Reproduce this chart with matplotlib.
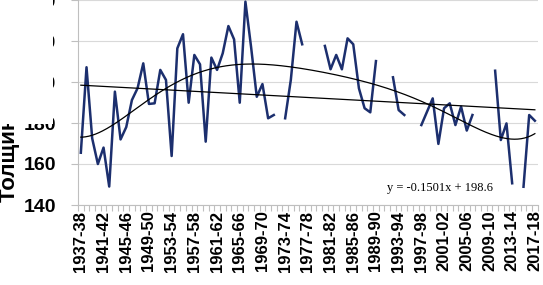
import numpy as np
import matplotlib
matplotlib.use("Agg")
import matplotlib.pyplot as plt
from matplotlib.patches import Rectangle

plt.rcParams['font.family'] = ['Liberation Sans', 'DejaVu Sans']

nan = np.nan
start_years = list(range(1937, 2018))
seasons = [f"{y}-{str(y + 1)[-2:]}" for y in start_years]

thickness = [
    165.5, 207.2, 172.5, 160.0, 168.0, 149.0, 195.3, 172.0, 178.0, 191.2,
    197.0, 209.1, 189.3, 189.6, 205.9, 201.0, 163.9, 216.4, 223.3, 189.9,
    213.2, 208.6, 170.9, 211.9, 205.9, 214.0, 227.3, 220.8, 189.9, 239.2,
    217.0, 192.8, 199.0, 182.3, 183.9, nan, 182.3, 201.0, 229.4, 218.4,
    nan, nan, nan, 217.6, 206.2, 213.2, 206.2, 221.3, 218.4, 196.9,
    187.2, 185.2, 210.2, nan, nan, 202.3, 186.3, 183.9, nan, nan,
    179.0, 185.5, 192.0, 169.8, 187.2, 189.6, 179.0, 188.0, 176.3, 183.9,
    nan, nan, nan, 205.5, 171.7, 179.8, 150.6, nan, 148.9, 183.9,
    181.1,
]

trend_slope = -0.1501
trend_intercept = 198.6
trend_label = "y = -0.1501x + 198.6"
poly_degree = 6
ylabel_text = "Толщина льда, см"
yticks = [140, 160, 180, 200, 220, 240]

W, H = 543, 285
fig = plt.figure(figsize=(W / 100, H / 100), dpi=100)
ax_w = 537.7 - 78
ax = fig.add_axes([78 / W, 80 / H, ax_w / W, 205 / H])

n = len(seasons)
idx = np.arange(n)
vals = np.array(thickness, dtype=float)
xnum = idx + 1

# data line
ax.plot(idx, vals, color='#1c2f6e', lw=1.8, zorder=3)

# linear trend
ax.plot(idx, trend_slope * xnum + trend_intercept, color='black', lw=0.9, zorder=4)

# polynomial trend fitted to data
mask = ~np.isnan(vals)
coef = np.polyfit(xnum[mask], vals[mask], poly_degree)
xs = np.linspace(1, n, 400)
ax.plot(xs - 1, np.polyval(coef, xs), color='black', lw=0.9, zorder=4)

ax.set_xlim(-0.5, n - 0.5)
ax.set_ylim(140, 240)
ax.set_yticks(yticks)
ax.grid(axis='y', color='#d9d9d9', lw=0.8)
ax.set_axisbelow(True)

ax.set_xticks(idx[::4])
ax.set_xticklabels(seasons[::4], rotation=90, fontweight='bold', fontsize=12)
ax.set_xticks(np.arange(n + 1) - 0.5, minor=True)
ax.tick_params(axis='x', which='major', length=0, pad=4)
ax.tick_params(axis='x', which='minor', length=4, color='#bfbfbf', width=0.8)
ax.tick_params(axis='y', length=5, color='#bfbfbf', width=0.8, pad=11, labelsize=14)
for lab in ax.get_yticklabels():
    lab.set_fontweight('bold')

for s in ['top', 'right']:
    ax.spines[s].set_visible(False)
ax.spines['left'].set_color('#bfbfbf')
ax.spines['bottom'].set_color('#bfbfbf')

ax.set_ylabel(ylabel_text, fontsize=16, fontweight='bold')
ax.yaxis.set_label_coords(-68 / ax_w, 3 / 205)
ax.yaxis.label.set_va('center')
ax.yaxis.label.set_ha('left')

fig.text(440 / W, 1 - 188 / H, trend_label, family=['Liberation Serif', 'DejaVu Serif'],
         fontsize=9, ha='center', va='center')

fig.patches.append(Rectangle((0, 1 - 124 / H), 53 / W, 124 / H, transform=fig.transFigure,
                             facecolor='white', edgecolor='none', zorder=10))

fig.savefig('out.png', dpi=100)
